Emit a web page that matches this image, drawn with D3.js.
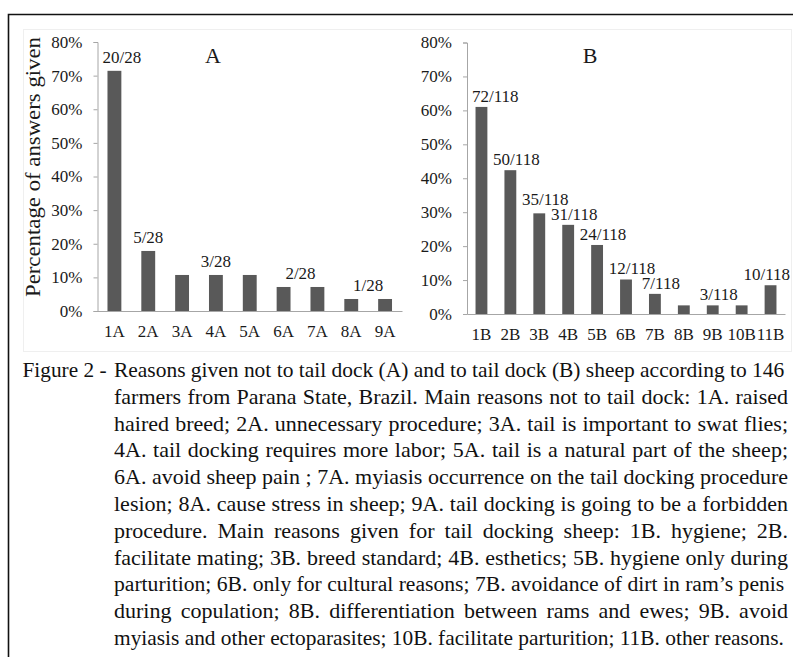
<!DOCTYPE html>
<html>
<head>
<meta charset="utf-8">
<script src="https://cdn.jsdelivr.net/npm/d3@7"></script>
<style>
  body { margin: 0; background: #fff; }
  svg { display: block; }
</style>
</head>
<body>
<div id="chart"></div>
<script>
// panel A: reasons not to tail dock (28 answers)
const categoriesA = ['1A', '2A', '3A', '4A', '5A', '6A', '7A', '8A', '9A'];
const countsA = [20, 5, 3, 3, 3, 2, 2, 1, 1];
const totalA = 28;
const labelGroupsA = [['1A'], ['2A'], ['3A', '4A', '5A'], ['6A', '7A'], ['8A', '9A']];

// panel B: reasons to tail dock (118 answers)
const categoriesB = ['1B', '2B', '3B', '4B', '5B', '6B', '7B', '8B', '9B', '10B', '11B'];
const countsB = [72, 50, 35, 31, 24, 12, 7, 3, 3, 3, 10];
const totalB = 118;
const labelGroupsB = [['1B'], ['2B'], ['3B'], ['4B'], ['5B'], ['6B'], ['7B'], ['8B', '9B', '10B'], ['11B']];

const yTicks = [0, 0.1, 0.2, 0.3, 0.4, 0.5, 0.6, 0.7, 0.8];
const yTitle = 'Percentage of answers given';

const captionHead = 'Figure 2 -';
const captionLines = [
  'Reasons given not to tail dock (A) and to tail dock (B) sheep according to 146',
  'farmers from Parana State, Brazil. Main reasons not to tail dock: 1A. raised',
  'haired breed; 2A. unnecessary procedure; 3A. tail is important to swat flies;',
  '4A. tail docking requires more labor; 5A. tail is a natural part of the sheep;',
  '6A. avoid sheep pain ; 7A. myiasis occurrence on the tail docking procedure',
  'lesion; 8A. cause stress in sheep; 9A. tail docking is going to be a forbidden',
  'procedure. Main reasons given for tail docking sheep: 1B. hygiene; 2B.',
  'facilitate mating; 3B. breed standard; 4B. esthetics; 5B. hygiene only during',
  'parturition; 6B. only for cultural reasons; 7B. avoidance of dirt in ram\u2019s penis',
  'during copulation; 8B. differentiation between rams and ewes; 9B. avoid',
  'myiasis and other ectoparasites; 10B. facilitate parturition; 11B. other reasons.'
];

// pick the first Times-like serif that is really installed
const pickFont = (names) => {
  const ctx = document.createElement('canvas').getContext('2d');
  const probe = 'Percentage of answers given 0123456789%';
  ctx.font = '40px monospace';
  const base = ctx.measureText(probe).width;
  for (const n of names) {
    ctx.font = `40px "${n}", monospace`;
    if (Math.abs(ctx.measureText(probe).width - base) > 0.5) return n;
  }
  return 'serif';
};
const serif = pickFont(['Liberation Serif', 'Tinos', 'Times New Roman', 'Nimbus Roman', 'Nimbus Roman No9 L',
  'FreeSerif', 'DejaVu Serif Condensed', 'Noto Serif', 'DejaVu Serif']);
const fontFamily = `"${serif}", serif`;

const width = 793, height = 657;
const barColor = '#595959';
const axisColor = '#a6a6a6';
const textColor = '#1a1a1a';

const svg = d3.select('#chart').append('svg')
  .attr('width', width)
  .attr('height', height)
  .attr('font-family', fontFamily);

// outer frame (only top and left edges are visible in the crop)
svg.append('path')
  .attr('d', `M8.5,${height} V14.5 H${width}`)
  .attr('fill', 'none')
  .attr('stroke', '#111')
  .attr('stroke-width', 1.6);

// faint chart-area border
svg.append('rect')
  .attr('x', 23.5).attr('y', 29.5)
  .attr('width', 768).attr('height', 322)
  .attr('fill', 'none')
  .attr('stroke', '#efefef');

const drawPanel = (cfg) => {
  const {categories, counts, total, groups, x0, x1, yBottom, yTop, title, titleX, labelDx, labelGap} = cfg;
  const values = counts.map(c => c / total);

  const xScale = d3.scaleBand().domain(categories).range([x0, x1]).paddingInner(0.59).paddingOuter(0.295);
  const yScale = d3.scaleLinear().domain([0, 0.8]).range([yBottom, yTop]);

  const g = svg.append('g');

  // y axis
  const yAxis = g.append('g')
    .attr('transform', `translate(${x0},0)`)
    .call(d3.axisLeft(yScale).tickValues(yTicks).tickSize(4).tickPadding(11).tickFormat(d3.format('.0%')));
  yAxis.attr('font-family', fontFamily);
  yAxis.select('.domain').attr('stroke', axisColor);
  yAxis.selectAll('.tick line').attr('stroke', axisColor);
  yAxis.selectAll('.tick text')
    .attr('fill', textColor)
    .attr('font-size', 17);

  // x axis
  const xAxis = g.append('g')
    .attr('transform', `translate(0,${yBottom})`)
    .call(d3.axisBottom(xScale).tickSize(0).tickPadding(14));
  xAxis.attr('font-family', fontFamily);
  xAxis.select('.domain').attr('stroke', axisColor);
  xAxis.selectAll('.tick text')
    .attr('fill', textColor)
    .attr('font-size', 17)
    .attr('dy', '0.71em');

  // bars
  g.selectAll('rect.bar')
    .data(categories.map((c, i) => ({name: c, value: values[i]})))
    .join('rect')
    .attr('class', 'bar')
    .attr('fill', barColor)
    .attr('x', d => xScale(d.name))
    .attr('width', xScale.bandwidth())
    .attr('y', d => yScale(d.value))
    .attr('height', d => yBottom - yScale(d.value));

  // count labels, one per group of equal bars
  const labelData = groups.map(grp => {
    const idx = categories.indexOf(grp[0]);
    const cx = d3.mean(grp, c => xScale(c) + xScale.bandwidth() / 2);
    return {text: `${counts[idx]}/${total}`, cx, y: yScale(values[idx]) - labelGap};
  });
  const labels = g.selectAll('text.count')
    .data(labelData)
    .join('text')
    .attr('class', 'count')
    .attr('fill', textColor)
    .attr('font-size', 17)
    .attr('text-anchor', 'middle')
    .text(d => d.text);
  labels.each(function (d) {
    d.w = this.getComputedTextLength();
    // keep clear of the y axis and the right edge
    d.x = Math.max(x0 + 5 + d.w / 2, Math.min(d.cx + labelDx, width - 3 - d.w / 2));
  });
  // lift a label when it runs into the one on its right
  for (let i = labelData.length - 2; i >= 0; i--) {
    const a = labelData[i], b = labelData[i + 1];
    const hOverlap = a.x + a.w / 2 > b.x - b.w / 2;
    if (hOverlap && a.y > b.y - 15) a.y = b.y - 15;
  }
  labels.attr('x', d => d.x).attr('y', d => d.y);

  // panel letter
  g.append('text')
    .attr('x', titleX)
    .attr('y', 62.5)
    .attr('text-anchor', 'middle')
    .attr('fill', textColor)
    .attr('font-size', 22)
    .text(title);
};

drawPanel({
  categories: categoriesA, counts: countsA, total: totalA, groups: labelGroupsA,
  x0: 97.5, x1: 402, yBottom: 311, yTop: 42, title: 'A', titleX: 213, labelDx: 0, labelGap: 8
});

drawPanel({
  categories: categoriesB, counts: countsB, total: totalB, groups: labelGroupsB,
  x0: 467, x1: 785, yBottom: 314, yTop: 42.5, title: 'B', titleX: 590, labelDx: 6, labelGap: 5
});

// y axis title (shared, left of panel A)
svg.append('text')
  .attr('transform', 'translate(39.5,167) rotate(-90)')
  .attr('text-anchor', 'middle')
  .attr('fill', textColor)
  .attr('font-size', 21)
  .attr('textLength', 260)
  .attr('lengthAdjust', 'spacingAndGlyphs')
  .text(yTitle);

// caption, justified line by line
const capLeft = 114, capRight = 788, capTop = 377, capStep = 26.8, capSize = 22;
const cap = svg.append('g')
  .attr('fill', '#111')
  .attr('font-size', capSize);

cap.append('text')
  .attr('x', 22.5)
  .attr('y', capTop)
  .attr('textLength', 84)
  .attr('lengthAdjust', 'spacingAndGlyphs')
  .text(captionHead);

cap.selectAll('text.line')
  .data(captionLines)
  .join('text')
  .attr('class', 'line')
  .attr('x', capLeft)
  .attr('y', (d, i) => capTop + i * capStep)
  .text(d => d)
  .each(function (d) {
    const el = d3.select(this);
    const spaces = d.split(' ').length - 1;
    const target = capRight - capLeft;
    const natural = this.getComputedTextLength();
    if (natural > target) {
      // shrink a too-long line so it just fits
      el.attr('font-size', capSize * target / natural * 0.995);
    } else {
      el.attr('word-spacing', (target - natural) / spaces);
    }
  });
</script>
</body>
</html>
